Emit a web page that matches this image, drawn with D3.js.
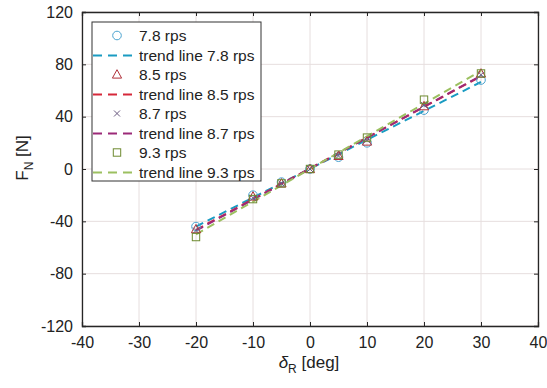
<!DOCTYPE html>
<html><head><meta charset="utf-8">
<script src="https://cdn.jsdelivr.net/npm/d3@7"></script>
<style>body{margin:0;background:#fff}svg{font-family:"Liberation Sans",Arial,sans-serif}</style>
</head><body><svg id="c" width="547" height="388"></svg>
<script>
const angles = [-20, -10, -5, 0, 5, 10, 20, 30];
const v78 = [-44, -20, -10, 0, 9, 20, 45, 68];
const v85 = [-46, -21, -11, 0, 10, 21, 48, 73];
const v87 = [-47, -22, -11, 0, 10, 22, 49, 72];
const v93 = [-52, -23, -11, 0, 11, 24, 53, 73];
const seriesNames = ["7.8 rps", "8.5 rps", "8.7 rps", "9.3 rps"];
const xTicks = [-40, -30, -20, -10, 0, 10, 20, 30, 40];
const yTicks = [-120, -80, -40, 0, 40, 80, 120];

const series = [
  {name: seriesNames[0], vals: v78, mcol: "#4aa3d0", lcol: "#1a9bc2", marker: "circle"},
  {name: seriesNames[1], vals: v85, mcol: "#b0303a", lcol: "#d6283a", marker: "triangle"},
  {name: seriesNames[2], vals: v87, mcol: "#6a5a80", lcol: "#9c2a78", marker: "x"},
  {name: seriesNames[3], vals: v93, mcol: "#6e8a30", lcol: "#9cc060", marker: "square"}
];

const svg = d3.select("#c");
const L = 82, R = 538, T = 12, B = 326;
const x = d3.scaleLinear().domain([-40, 40]).range([L, R]);
const y = d3.scaleLinear().domain([-120, 120]).range([B, T]);
const fmt = d => String(d);

// grid
const g = svg.append("g");
g.selectAll(".gx").data(xTicks).enter().append("line")
  .attr("x1", d => x(d)).attr("x2", d => x(d)).attr("y1", T).attr("y2", B)
  .attr("stroke", "#e6dede").attr("stroke-width", 1);
g.selectAll(".gy").data(yTicks).enter().append("line")
  .attr("y1", d => y(d)).attr("y2", d => y(d)).attr("x1", L).attr("x2", R)
  .attr("stroke", "#e6dede").attr("stroke-width", 1);

// axes
const ax = svg.append("g").attr("transform", `translate(0,${B})`)
  .call(d3.axisBottom(x).tickValues(xTicks).tickSize(-4).tickPadding(11).tickFormat(fmt));
const ay = svg.append("g").attr("transform", `translate(${L},0)`)
  .call(d3.axisLeft(y).tickValues(yTicks).tickSize(-4).tickPadding(9).tickFormat(fmt));
const axT = svg.append("g").attr("transform", `translate(0,${T})`)
  .call(d3.axisTop(x).tickValues(xTicks).tickSize(-4).tickFormat(""));
const ayR = svg.append("g").attr("transform", `translate(${R},0)`)
  .call(d3.axisRight(y).tickValues(yTicks).tickSize(-4).tickFormat(""));
[ax, ay, axT, ayR].forEach(a => {
  a.selectAll("path").attr("stroke", "#262626").attr("stroke-width", 1.3);
  a.selectAll("line").attr("stroke", "#262626");
  a.selectAll("text").attr("font-size", 16).attr("fill", "#222").attr("font-family", "'Liberation Sans',Arial,sans-serif");
});

// regression
function fit(xs, ys) {
  const n = xs.length, mx = d3.mean(xs), my = d3.mean(ys);
  let sxy = 0, sxx = 0;
  for (let i = 0; i < n; i++) { sxy += (xs[i]-mx)*(ys[i]-my); sxx += (xs[i]-mx)**2; }
  const b = sxy / sxx; return [b, my - b*mx];
}
const plot = svg.append("g");
function drawMarker(sel, type, col, cx, cy) {
  if (type === "circle") sel.append("circle").attr("cx", cx).attr("cy", cy).attr("r", 4.3).attr("fill", "none").attr("stroke", col).attr("stroke-width", 1);
  else if (type === "triangle") sel.append("path").attr("d", `M${cx},${cy-4.8}L${cx+4.6},${cy+3.6}L${cx-4.6},${cy+3.6}Z`).attr("fill", "none").attr("stroke", col).attr("stroke-width", 1);
  else if (type === "square") sel.append("rect").attr("x", cx-3.7).attr("y", cy-3.7).attr("width", 7.4).attr("height", 7.4).attr("fill", "none").attr("stroke", col).attr("stroke-width", 1);
  else sel.append("path").attr("d", `M${cx-3},${cy-3}L${cx+3},${cy+3}M${cx-3},${cy+3}L${cx+3},${cy-3}`).attr("stroke", col).attr("stroke-width", 1);
}
series.forEach(s => {
  const [b, a] = fit(angles, s.vals);
  const xe = d3.extent(angles);
  plot.append("line").attr("x1", x(xe[0])).attr("y1", y(a + b*xe[0])).attr("x2", x(xe[1])).attr("y2", y(a + b*xe[1]))
    .attr("stroke", s.lcol).attr("stroke-width", 2).attr("stroke-dasharray", "8,5");
});
series.forEach(s => {
  angles.forEach((d, i) => drawMarker(plot, s.marker, s.mcol, x(d), y(s.vals[i])));
});

// legend
const lg = svg.append("g");
lg.append("rect").attr("x", 92).attr("y", 22).attr("width", 169).attr("height", 159)
  .attr("fill", "#fff").attr("stroke", "#333").attr("stroke-width", 1);
series.forEach((s, i) => {
  const y1 = 35.5 + i*39, y2 = y1 + 20;
  drawMarker(lg, s.marker, s.mcol, 117, y1);
  lg.append("text").attr("x", 139).attr("y", y1 + 5.5).attr("font-size", 15.5).attr("fill", "#222").text(s.name);
  lg.append("line").attr("x1", 93).attr("x2", 138).attr("y1", y2).attr("y2", y2)
    .attr("stroke", s.lcol).attr("stroke-width", 2).attr("stroke-dasharray", "9,6");
  lg.append("text").attr("x", 139).attr("y", y2 + 5.5).attr("font-size", 15.5).attr("fill", "#222").text("trend line " + s.name);
});

// axis labels
const xl = svg.append("text").attr("x", 309).attr("y", 368).attr("text-anchor", "middle").attr("font-size", 17).attr("fill", "#222");
xl.append("tspan").text("δ").attr("font-style", "italic");
xl.append("tspan").text("R").attr("font-size", 12).attr("dy", 5);
xl.append("tspan").text(" [deg]").attr("dy", -5);
const yl = svg.append("text").attr("transform", "translate(28,158) rotate(-90)").attr("text-anchor", "middle").attr("font-size", 17).attr("fill", "#222");
yl.append("tspan").text("F");
yl.append("tspan").text("N").attr("font-size", 12).attr("dy", 5);
yl.append("tspan").text(" [N]").attr("dy", -5);
</script></body></html>
